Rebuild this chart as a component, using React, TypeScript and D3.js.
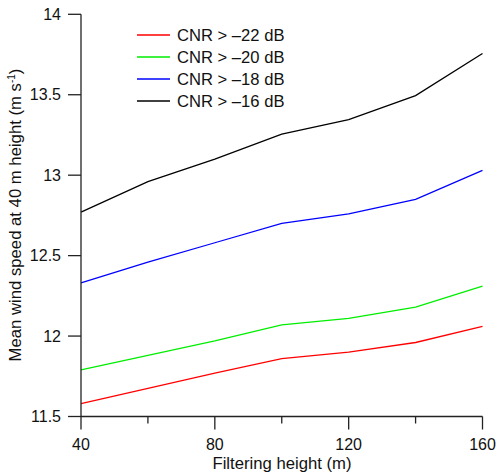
import React from "react";
import * as d3 from "d3";

const heights = [40, 60, 80, 100, 120, 140, 160];
const cnr22 = [11.58, 11.675, 11.77, 11.86, 11.9, 11.96, 12.06];
const cnr20 = [11.79, 11.88, 11.97, 12.07, 12.11, 12.18, 12.31];
const cnr18 = [12.33, 12.46, 12.58, 12.7, 12.76, 12.85, 13.03];
const cnr16 = [12.77, 12.96, 13.1, 13.255, 13.345, 13.495, 13.756];
const seriesLabels = ["CNR > \u201322 dB", "CNR > \u201320 dB", "CNR > \u201318 dB", "CNR > \u201316 dB"];
const seriesColors = ["#ff0000", "#00ee00", "#0000ff", "#000000"];
const xMajor = [40, 80, 120, 160];
const xMinor = [60, 100, 140];
const yTicks = [11.5, 12, 12.5, 13, 13.5, 14];

export default function App() {
  const W = 500, H = 474;
  const x = d3.scaleLinear().domain([40, 160]).range([81, 482.5]);
  const y = d3.scaleLinear().domain([11.5, 14]).range([416.5, 14.3]);
  const allSeries = [cnr22, cnr20, cnr18, cnr16];
  const line = d3.line<number>().x((_, i) => x(heights[i])).y((d) => y(d));
  const axisColor = "#222";
  const font = "'Liberation Sans', Arial, sans-serif";
  return (
    <svg width={W} height={H} style={{ position: "absolute", left: 0, top: 0, background: "#fff" }} fontFamily={font}>
      {allSeries.map((s, i) => (
        <path key={i} d={line(s) || ""} fill="none" stroke={seriesColors[i]} strokeWidth={1.3} />
      ))}
      <line x1={x(40)} x2={x(40)} y1={y(14)} y2={y(11.5)} stroke={axisColor} strokeWidth={1.3} />
      <line x1={x(40)} x2={x(160)} y1={y(11.5)} y2={y(11.5)} stroke={axisColor} strokeWidth={1.3} />
      {yTicks.map((t) => (
        <g key={t}>
          <line x1={x(40) - 13} x2={x(40)} y1={y(t)} y2={y(t)} stroke={axisColor} strokeWidth={1.3} />
          <text x={61} y={y(t)} dy="0.35em" textAnchor="end" fontSize={16} fill="#111">{t}</text>
        </g>
      ))}
      {xMajor.map((t) => (
        <g key={t}>
          <line x1={x(t)} x2={x(t)} y1={y(11.5)} y2={y(11.5) + 13} stroke={axisColor} strokeWidth={1.3} />
          <text x={x(t)} y={450} textAnchor="middle" fontSize={16} fill="#111">{t}</text>
        </g>
      ))}
      {xMinor.map((t) => (
        <line key={t} x1={x(t)} x2={x(t)} y1={y(11.5)} y2={y(11.5) + 7} stroke={axisColor} strokeWidth={1.3} />
      ))}
      <text x={282} y={469} textAnchor="middle" fontSize={16.7} fill="#111">Filtering height (m)</text>
      <text transform="translate(21,215) rotate(-90)" textAnchor="middle" fontSize={16.7} fill="#111">
        Mean wind speed at 40 m height (m s<tspan dy="-6" fontSize={10}>-1</tspan><tspan dy="6">)</tspan>
      </text>
      {seriesLabels.map((lab, i) => (
        <g key={lab}>
          <line x1={137} x2={170} y1={35 + i * 22} y2={35 + i * 22} stroke={seriesColors[i]} strokeWidth={1.3} />
          <text x={177} y={35 + i * 22} dy="0.35em" fontSize={16.6} fill="#111">{lab}</text>
        </g>
      ))}
    </svg>
  );
}
